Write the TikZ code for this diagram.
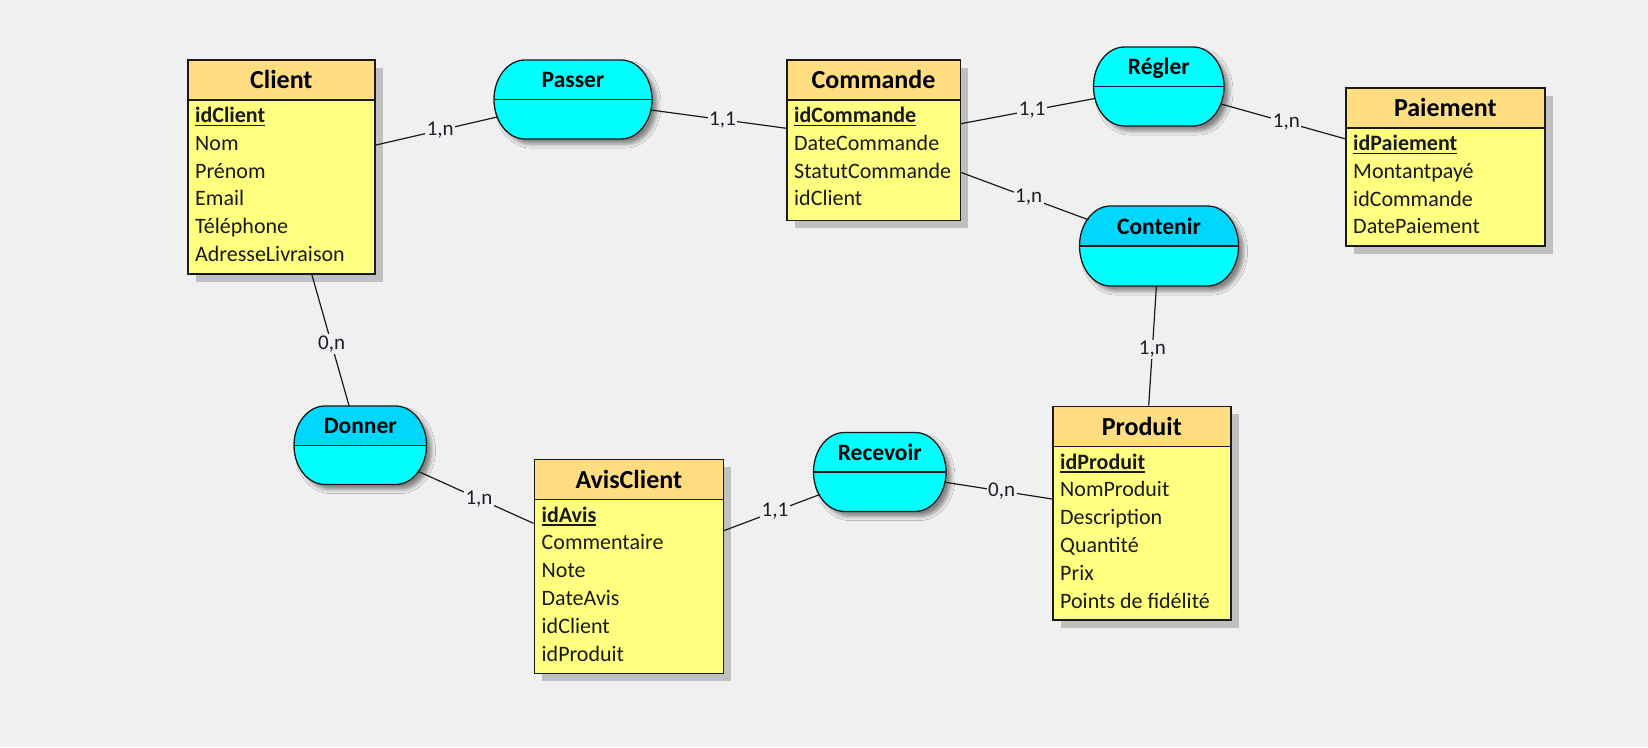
\documentclass[tikz,border=0pt]{standalone}
\usepackage{fontspec}
\setmainfont{Carlito}
\usetikzlibrary{shapes.misc,shadows,shadows.blur}

\definecolor{bg}{HTML}{F0F0F0}
\definecolor{headfill}{HTML}{FFDD80}
\definecolor{bodyfill}{HTML}{FFFF80}
\definecolor{cyanfill}{HTML}{00FFFF}
\definecolor{bluefill}{HTML}{00D7FF}
\definecolor{shadowgray}{HTML}{C0C0C0}
\definecolor{ink}{HTML}{1A1A1A}
\definecolor{cardink}{HTML}{1C1C2C}

% primary key: bold with a thick underline
\newlength\pkwidth
\newcommand\pkey[1]{\settowidth\pkwidth{\bfseries #1}\bfseries\rlap{\rule[-3.6pt]{\pkwidth}{1.6pt}}#1}

\tikzset{
  entbox/.style={draw=ink, line width=1.6pt, fill=bodyfill, inner sep=0pt, anchor=north west,
    drop shadow={shadow xshift=8pt, shadow yshift=-8pt, fill=shadowgray, opacity=1}},
  enthead/.style={draw=ink, line width=1.6pt, fill=headfill, inner sep=0pt, anchor=north west,
    minimum height=40pt, font=\fontsize{26}{30}\selectfont\bfseries},
  attr/.style={anchor=base west, inner sep=0pt, font=\fontsize{22}{26}\selectfont, text=ink},
  assocnode/.style={rounded rectangle, rounded rectangle arc length=150, draw=none, inner sep=0pt},
  assocbody/.style={fill=cyanfill,
    blur shadow={shadow xshift=5pt, shadow yshift=-5pt, shadow blur radius=4pt, shadow opacity=45}},
  assocline/.style={draw=ink, line width=1.3pt},
  assocname/.style={anchor=base, inner sep=0pt, font=\fontsize{23.5}{26}\selectfont\bfseries, text=black},
  link/.style={draw=ink, line width=1.2pt},
  card/.style={fill=bg, inner sep=1.5pt, pos=0.53, font=\fontsize{21}{24}\selectfont, text=cardink},
}

% entity: name, left, top, width, height, title, attributes (key first)
\newcommand\entity[7]{%
  \node[entbox, minimum width=#4pt, minimum height=#5pt] (#1) at (#2,#3) {};
  \node[enthead, minimum width=#4pt] (#1-head) at (#2,#3) {#6};
  \foreach \a [count=\i from 0] in {#7} {
    \node[attr] (#1-row\i) at (#2+8,#3+63.5+27.8*\i) {\a};
  }
}

% association: name, centre x, centre y, width, height, colour of the upper half, title
% ends are half ellipses (radii in canvas points, angles measured on the page)
\newcommand\assoc[7]{%
  \pgfmathsetmacro\xa{#2-#4/2}\pgfmathsetmacro\xb{#2+#4/2}%
  \pgfmathsetmacro\ya{#3-#5/2}\pgfmathsetmacro\yb{#3+#5/2}%
  \pgfmathsetmacro\ry{#5/2}%
  \def\rx{31}%
  \node[assocnode, minimum width=#4pt, minimum height=#5pt] (#1) at (#2,#3) {};
  \path[assocbody] (\xa+\rx,\ya) -- (\xb-\rx,\ya)
    arc[start angle=90, end angle=-90, x radius=\rx pt, y radius=\ry pt] -- (\xa+\rx,\yb)
    arc[start angle=270, end angle=90, x radius=\rx pt, y radius=\ry pt] -- cycle;
  \fill[#6] (\xa,#3) arc[start angle=180, end angle=90, x radius=\rx pt, y radius=\ry pt]
    -- (\xb-\rx,\ya) arc[start angle=90, end angle=0, x radius=\rx pt, y radius=\ry pt] -- cycle;
  \draw[assocline] (\xa,#3) -- (\xb,#3);
  \draw[assocline] (\xa+\rx,\ya) -- (\xb-\rx,\ya)
    arc[start angle=90, end angle=-90, x radius=\rx pt, y radius=\ry pt] -- (\xa+\rx,\yb)
    arc[start angle=270, end angle=90, x radius=\rx pt, y radius=\ry pt] -- cycle;
  \node[assocname] (#1-name) at ([yshift=12pt]#1.center) {#7};
}

\begin{document}
\begin{tikzpicture}[x=1pt, y=-1pt]
  \fill[bg] (0,0) rectangle (1648,747);
  \useasboundingbox (0,0) rectangle (1648,747);

  % entities
  \entity{client}{187}{59}{187}{214}{Client}{\pkey{idClient},Nom,Prénom,Email,Téléphone,AdresseLivraison}
  \entity{commande}{786}{59}{173.5}{160.5}{Commande}{\pkey{idCommande},DateCommande,StatutCommande,idClient}
  \entity{paiement}{1345}{87}{199}{158}{Paiement}{\pkey{idPaiement},Montantpayé,idCommande,DatePaiement}
  \entity{avis}{533.5}{458.5}{189}{214}{AvisClient}{\pkey{idAvis},Commentaire,Note,DateAvis,idClient,idProduit}
  \entity{produit}{1052}{405.5}{178}{213.5}{Produit}{\pkey{idProduit},NomProduit,Description,Quantité,Prix,Points de fidélité}

  % associations
  \assoc{passer}{573}{99.5}{158}{79}{cyanfill}{Passer}
  \assoc{regler}{1158.75}{86.5}{130.5}{79}{cyanfill}{Régler}
  \assoc{contenir}{1159}{246}{159}{80}{bluefill}{Contenir}
  \assoc{donner}{360.25}{445.25}{132.5}{78.5}{bluefill}{Donner}
  \assoc{recevoir}{879.75}{472}{132.5}{79}{cyanfill}{Recevoir}

  % links with cardinalities
  \draw[link] (client) -- node[card] (c1) {1,n} (passer);
  \draw[link] (passer) -- node[card] (c2) {1,1} (commande);
  \draw[link] (commande) -- node[card] (c3) {1,1} (regler);
  \draw[link] (regler) -- node[card] (c4) {1,n} (paiement);
  \draw[link] (commande) -- node[card] (c5) {1,n} (contenir);
  \draw[link] (contenir) -- node[card] (c6) {1,n} (produit);
  \draw[link] (client) -- node[card] (c7) {0,n} (donner);
  \draw[link] (donner) -- node[card] (c8) {1,n} (avis);
  \draw[link] (avis) -- node[card] (c9) {1,1} (recevoir);
  \draw[link] (recevoir) -- node[card] (c10) {0,n} (produit);
\end{tikzpicture}
\end{document}
